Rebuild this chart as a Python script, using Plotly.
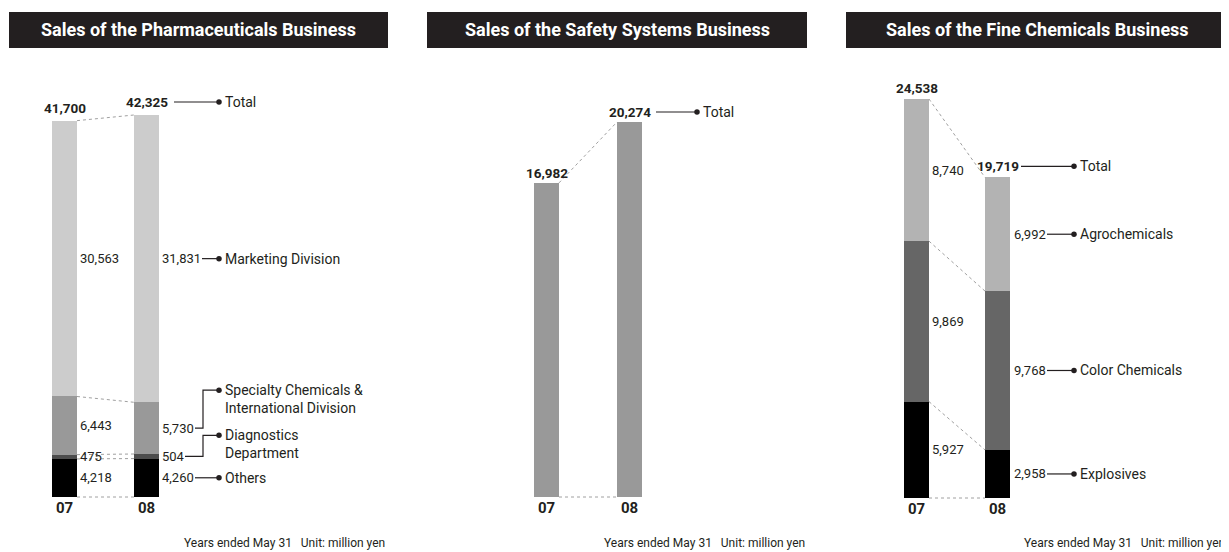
import plotly.graph_objects as go

WIN_W, WIN_H = 1229, 552
OFF = 8  # default page body margin
W, H = WIN_W - OFF, WIN_H - OFF

# ---------------- data ----------------
years = ["07", "08"]

pharma_title = "Sales of the Pharmaceuticals Business"
pharma_others = [4218, 4260]
pharma_diag = [475, 504]
pharma_spec = [6443, 5730]
pharma_mkt = [30563, 31831]
pharma_total = [41700, 42325]

safety_title = "Sales of the Safety Systems Business"
safety_total = [16982, 20274]

fine_title = "Sales of the Fine Chemicals Business"
fine_expl = [5927, 2958]
fine_color = [9869, 9768]
fine_agro = [8740, 6992]
fine_total = [24538, 19719]

footnote = "Years ended May 31   Unit: million yen"

# ---------------- styling / layout ----------------
FONT = "Roboto, Liberation Sans, sans-serif"
TXT = "#231f20"
DOTC = "#a0a0a0"
BAR_PX = 25
VAL_SIZE = 13
TOT_SIZE = 13.5
LAB_SIZE = 14

panels = [
    dict(ax="", c0=64.5, S=82, base=497, top=115, p0=8, p1=415, head=(9, 388), foot=387),
    dict(ax="2", c0=546.5, S=83, base=497, top=122, p0=420, p1=835, head=(427, 807), foot=807),
    dict(ax="3", c0=916.5, S=81, base=498, top=99, p0=840, p1=1229, head=(846, 1229), foot=1227),
]
tops = [max(pharma_total), max(safety_total), max(fine_total)]
for p, t in zip(panels, tops):
    p["k"] = (p["base"] - p["top"]) / t

fig = go.Figure()
annotations = []
shapes = []


def px2paper(px):
    return (px - OFF) / W


def py2paper(py):
    return 1 - (py - OFF) / H


def xu(p, px):
    return (px - p["c0"]) / p["S"]


def dy(p, dpx):
    return dpx / p["k"]


def refs(p):
    return "x" + p["ax"], "y" + p["ax"]


def add_stack(p, series, colors):
    xr, yr = refs(p)
    hw = BAR_PX / p["S"] / 2
    xs = list(range(len(years)))
    cum = [[0] * len(years)]
    for vals, col in zip(series, colors):
        fig.add_trace(go.Bar(x=xs, y=vals, width=BAR_PX / p["S"], marker=dict(color=col, line=dict(width=0)),
                             xaxis=xr, yaxis=yr, showlegend=False, hoverinfo="skip"))
        cum.append([c + v for c, v in zip(cum[-1], vals)])
    for c in cum:
        fig.add_trace(go.Scatter(x=[hw, 1 - hw], y=c, mode="lines", line=dict(color=DOTC, width=1, dash="dot"),
                                 xaxis=xr, yaxis=yr, showlegend=False, hoverinfo="skip"))
    mids = []
    for i, vals in enumerate(series):
        mids.append([cum[i][j] + vals[j] / 2 for j in range(len(years))])
    return cum, mids


def text(p, x, y, s, size=VAL_SIZE, anchor="left", bold=False, color=TXT):
    xr, yr = refs(p)
    annotations.append(dict(x=x, y=y, xref=xr, yref=yr, text=s, showarrow=False, xanchor=anchor,
                            yanchor="middle", borderpad=0,
                            font=dict(family=FONT, size=size, color=color, weight="bold" if bold else "normal")))


def leader(p, pts):
    xr, yr = refs(p)
    xs = [xu(p, a) for a, b in pts]
    ys = [b for a, b in pts]
    fig.add_trace(go.Scatter(x=xs, y=ys, mode="lines", line=dict(color=TXT, width=1.2),
                             xaxis=xr, yaxis=yr, showlegend=False, hoverinfo="skip"))
    fig.add_trace(go.Scatter(x=[xs[-1]], y=[ys[-1]], mode="markers", marker=dict(color=TXT, size=5.5),
                             xaxis=xr, yaxis=yr, showlegend=False, hoverinfo="skip"))


def seg_labels(p, series, mids, gap07, gap08):
    hw = BAR_PX / p["S"] / 2
    for vals, m in zip(series, mids):
        text(p, hw + gap07 / p["S"], m[0], f"{vals[0]:,}")
        text(p, 1 + hw + gap08 / p["S"], m[1], f"{vals[1]:,}")


def totals(p, tot, above=12):
    for j, v in enumerate(tot):
        text(p, j, v + dy(p, above), f"{v:,}", size=TOT_SIZE, anchor="center", bold=True)


# ---------------- panel 1: pharma ----------------
p = panels[0]
ser = [pharma_others, pharma_diag, pharma_spec, pharma_mkt]
cum, mids = add_stack(p, ser, ["#000000", "#4d4d4d", "#999999", "#cccccc"])
seg_labels(p, ser, mids, 2, 2)
totals(p, pharma_total, 13)
yt = pharma_total[1] + dy(p, 13)
leader(p, [(174, yt), (219, yt)])
text(p, xu(p, 224), yt, "Total", size=LAB_SIZE)
m = mids[3][1]
leader(p, [(202, m), (219, m)])
text(p, xu(p, 224), m, "Marketing Division", size=LAB_SIZE)
m = mids[2][1]
ytop = m + dy(p, 38)
leader(p, [(195, m), (203, m), (203, ytop), (219, ytop)])
text(p, xu(p, 224), ytop, "Specialty Chemicals &", size=LAB_SIZE)
text(p, xu(p, 224), ytop - dy(p, 18), "International Division", size=LAB_SIZE)
m = mids[1][1]
ytop = m + dy(p, 21)
leader(p, [(185, m), (203, m), (203, ytop), (219, ytop)])
text(p, xu(p, 224), ytop, "Diagnostics", size=LAB_SIZE)
text(p, xu(p, 224), ytop - dy(p, 18), "Department", size=LAB_SIZE)
m = mids[0][1]
leader(p, [(195, m), (219, m)])
text(p, xu(p, 224), m, "Others", size=LAB_SIZE)

# ---------------- panel 2: safety ----------------
p = panels[1]
cum, mids = add_stack(p, [safety_total], ["#999999"])
totals(p, safety_total, 10)
yt = safety_total[1] + dy(p, 10)
leader(p, [(656, yt), (697, yt)])
text(p, xu(p, 702), yt, "Total", size=LAB_SIZE)

# ---------------- panel 3: fine chemicals ----------------
p = panels[2]
ser = [fine_expl, fine_color, fine_agro]
cum, mids = add_stack(p, ser, ["#000000", "#666666", "#b3b3b3"])
seg_labels(p, ser, mids, 2, 3)
totals(p, fine_total, 11)
yt = fine_total[1] + dy(p, 11)
leader(p, [(1021, yt), (1074, yt)])
text(p, xu(p, 1079), yt, "Total", size=LAB_SIZE)
for m, lab in zip([mids[2][1], mids[1][1], mids[0][1]], ["Agrochemicals", "Color Chemicals", "Explosives"]):
    leader(p, [(1047, m), (1074, m)])
    text(p, xu(p, 1079), m, lab, size=LAB_SIZE)

# ---------------- headers & footnotes ----------------
for p, title in zip(panels, [pharma_title, safety_title, fine_title]):
    x0, x1 = p["head"]
    shapes.append(dict(type="rect", xref="paper", yref="paper", x0=px2paper(x0), x1=px2paper(x1),
                       y0=py2paper(48), y1=py2paper(12), fillcolor="#231f20", line=dict(width=0), layer="below"))
    annotations.append(dict(x=px2paper((x0 + x1) / 2), y=py2paper(30), xref="paper", yref="paper", text=title,
                            showarrow=False, xanchor="center", yanchor="middle",
                            font=dict(family=FONT, size=18, color="white", weight="bold")))
    annotations.append(dict(x=px2paper(p["foot"]), y=py2paper(543),
                            xref="paper", yref="paper", text=footnote, showarrow=False,
                            xanchor="right", yanchor="middle",
                            font=dict(family=FONT, size=12, color=TXT)))

layout = dict(width=W, height=H, margin=dict(l=0, r=0, t=0, b=0), paper_bgcolor="white",
              plot_bgcolor="rgba(0,0,0,0)", barmode="stack", showlegend=False,
              annotations=annotations, shapes=shapes, font=dict(family=FONT, color=TXT))
for p in panels:
    layout["xaxis" + p["ax"]] = dict(domain=[px2paper(p["p0"]), px2paper(p["p1"])],
                                     range=[xu(p, p["p0"]), xu(p, p["p1"])],
                                     showgrid=False, zeroline=False, showline=False, ticks="",
                                     tickvals=list(range(len(years))), ticktext=years,
                                     tickfont=dict(family=FONT, size=15, color=TXT, weight="bold"),
                                     anchor="free", position=py2paper(p["base"]), fixedrange=True)
    layout["yaxis" + p["ax"]] = dict(domain=[0, 1],
                                     range=[-(WIN_H - p["base"]) / p["k"], (p["base"] - OFF) / p["k"]],
                                     visible=False, anchor="x" + p["ax"], fixedrange=True)
fig.update_layout(**layout)
fig.write_html("out.html")
